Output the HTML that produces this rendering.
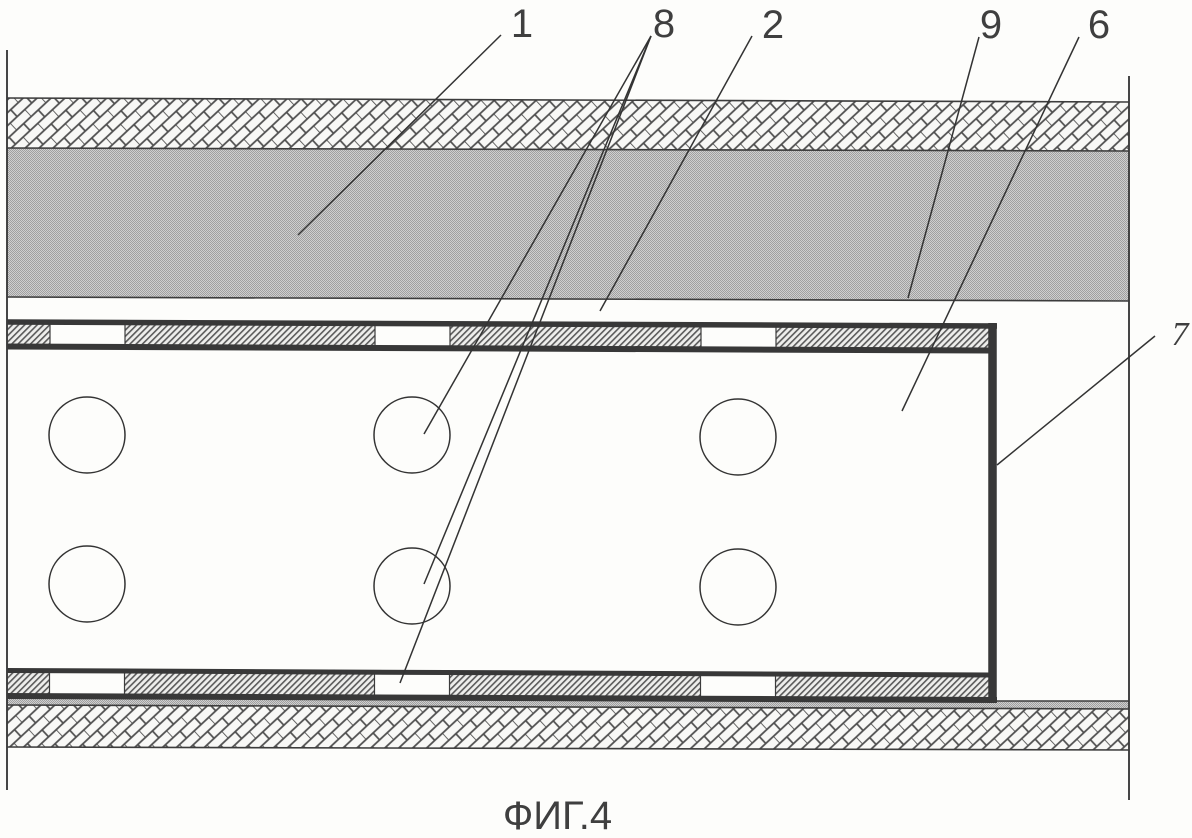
<!DOCTYPE html>
<html>
<head>
<meta charset="utf-8">
<style>
html,body{margin:0;padding:0;background:#fdfdfb;overflow:hidden;}
svg{display:block;filter:blur(0.35px);}
text{font-family:"Liberation Sans",sans-serif;fill:#3f3f3f;}
</style>
</head>
<body>
<svg width="1192" height="838" viewBox="0 0 1192 838" xmlns="http://www.w3.org/2000/svg">
<defs>
<pattern id="brick" width="20" height="19" patternUnits="userSpaceOnUse" patternTransform="rotate(-43) translate(3 2)">
<rect width="20" height="19" fill="#f8f8f6"/>
<path d="M0 0H20M0 9.5H20M0 19H20M0 0V9.5M10 9.5V19" stroke="#4e4e4e" stroke-width="1.7" fill="none"/>
</pattern>
<pattern id="gray" width="2" height="2" patternUnits="userSpaceOnUse">
<rect width="2" height="2" fill="#cfcfcf"/>
<rect width="1" height="1" fill="#a0a0a0"/>
<rect x="1" y="1" width="1" height="1" fill="#a0a0a0"/>
</pattern>
<pattern id="hatch" width="4.4" height="4.4" patternUnits="userSpaceOnUse" patternTransform="rotate(45)">
<rect width="4.4" height="4.4" fill="#eeeeec"/>
<rect width="1.6" height="4.4" fill="#5a5a5a"/>
</pattern>
</defs>
<rect width="1192" height="838" fill="#fdfdfb"/>

<!-- top layered bands -->
<polygon points="7,98 1129,102 1129,151 7,148" fill="url(#brick)"/>
<polygon points="7,148 1129,151 1129,301 7,297" fill="url(#gray)"/>
<g stroke="#3c3c3c" stroke-width="1.6" fill="none">
<line x1="7" y1="98" x2="1129" y2="102"/>
<line x1="7" y1="148" x2="1129" y2="151"/>
<line x1="7" y1="297" x2="1129" y2="301"/>
</g>

<!-- bottom bands -->
<polygon points="7,699 1129,701 1129,709 7,705" fill="url(#gray)"/>
<polygon points="7,705 1129,709 1129,750 7,747" fill="url(#brick)"/>
<g stroke="#3c3c3c" stroke-width="1.6" fill="none">
<line x1="997" y1="701" x2="1129" y2="701"/>
<line x1="7" y1="705" x2="1129" y2="709"/>
<line x1="7" y1="747" x2="1129" y2="750"/>
</g>

<!-- hatched shell strips -->
<polygon points="7,323 990,326 990,349 7,346" fill="url(#hatch)"/>
<polygon points="7,671 990,675 990,699 7,695" fill="url(#hatch)"/>

<!-- windows -->
<g fill="#fdfdfb" stroke="#3c3c3c" stroke-width="1.2">
<rect x="50" y="323" width="75" height="23"/>
<rect x="375" y="324" width="75" height="23"/>
<rect x="701" y="325" width="75" height="23"/>
<rect x="49.5" y="671" width="75" height="24"/>
<rect x="374.5" y="672" width="75" height="24"/>
<rect x="700.5" y="674" width="75" height="24"/>
</g>

<!-- thick channel wall -->
<g stroke="#383838" fill="none">
<line x1="7" y1="322" x2="997" y2="326" stroke-width="5.5"/>
<line x1="7" y1="346.5" x2="990" y2="350.5" stroke-width="6"/>
<line x1="7" y1="670.5" x2="990" y2="675" stroke-width="5"/>
<line x1="7" y1="696" x2="997" y2="700" stroke-width="6"/>
<line x1="992.5" y1="323" x2="992.5" y2="703" stroke-width="8.5"/>
</g>

<!-- circles -->
<g fill="#fdfdfb" stroke="#333" stroke-width="1.5">
<circle cx="87" cy="435" r="38"/>
<circle cx="412" cy="435" r="38"/>
<circle cx="738" cy="437" r="38"/>
<circle cx="87" cy="584" r="38"/>
<circle cx="412" cy="586" r="38"/>
<circle cx="738" cy="587" r="38"/>
</g>

<!-- outer verticals -->
<g stroke="#3c3c3c" stroke-width="1.9">
<line x1="7" y1="50" x2="7" y2="790"/>
<line x1="1129" y1="76" x2="1129" y2="800"/>
</g>

<!-- leaders -->
<g stroke="#333" stroke-width="1.5" fill="none">
<line x1="501" y1="35" x2="298" y2="235"/>
<line x1="651" y1="36" x2="424" y2="434"/>
<line x1="651" y1="36" x2="424" y2="584"/>
<line x1="651" y1="36" x2="400" y2="683"/>
<line x1="752" y1="36" x2="600" y2="311"/>
<line x1="979" y1="37" x2="908" y2="298"/>
<line x1="1079" y1="37" x2="902" y2="411"/>
<line x1="1155" y1="336" x2="997" y2="465"/>
</g>

<!-- labels -->
<text x="522" y="37" font-size="40" text-anchor="middle">1</text>
<text x="664" y="37" font-size="40" text-anchor="middle">8</text>
<text x="773" y="38" font-size="40" text-anchor="middle">2</text>
<text x="991" y="38" font-size="40" text-anchor="middle">9</text>
<text x="1099" y="38" font-size="40" text-anchor="middle">6</text>
<text x="1180" y="345" font-size="34" text-anchor="middle" font-style="italic" style="font-family:'Liberation Serif',serif">7</text>
<text x="557.5" y="829" font-size="40" text-anchor="middle">ФИГ.4</text>
</svg>
</body>
</html>
